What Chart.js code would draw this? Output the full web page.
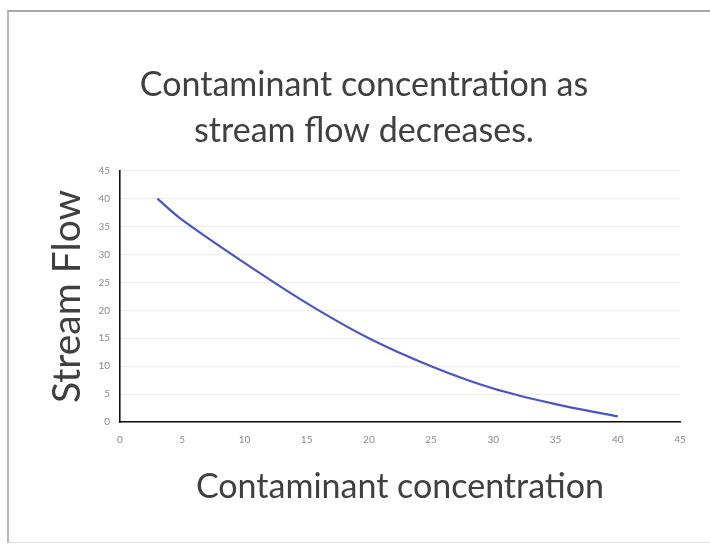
<!DOCTYPE html>
<html><head><meta charset="utf-8">
<script src="https://cdn.jsdelivr.net/npm/chart.js@4"></script>
<style>
html,body{margin:0;padding:0;background:#fff;overflow:hidden;}
#frame{position:absolute;left:7px;top:10px;width:720px;height:533px;border-left:2px solid #b8b8b8;border-top:2px solid #a8a8a8;border-bottom:1px solid #e0e0e0;box-sizing:border-box;}
#wrap{position:absolute;left:0;top:0;width:710px;height:546px;}
</style></head><body>
<div id="frame"></div>
<div id="wrap"><canvas id="c" width="710" height="546"></canvas></div>
<script>
const titleLines = ["Contaminant concentration as", "stream flow decreases."];
const xTitle = "Contaminant concentration";
const yTitle = "Stream Flow";
const concentration = [3, 5, 10, 15, 20, 25, 30, 35, 40];
const streamFlow = [40, 36.2, 28.5, 21.3, 15, 10, 6, 3.2, 1];
const axisMin = 0, axisMax = 45, axisStep = 5;

const points = concentration.map((x, i) => ({x: x, y: streamFlow[i]}));
const FONT = "Lato, 'Open Sans', sans-serif";

new Chart(document.getElementById('c'), {
  type: 'scatter',
  data: { datasets: [{
    data: points, showLine: true, borderColor: '#4b55c2', borderWidth: 2.2,
    pointRadius: 0, pointHoverRadius: 0, tension: 0.35, fill: false
  }]},
  options: {
    responsive: false, animation: false,
    layout: { padding: { left: 48, right: 30, top: 0, bottom: 0 } },
    plugins: {
      legend: { display: false }, tooltip: { enabled: false },
      title: { display: true, text: titleLines, color: '#404040',
        font: { family: FONT, size: 34, weight: 'normal', lineHeight: 1.35 },
        padding: { top: 62, bottom: 17 } }
    },
    scales: {
      x: { type: 'linear', min: axisMin, max: axisMax,
        ticks: { stepSize: axisStep, color: '#8a8a8a', font: { family: FONT, size: 10 }, padding: 12 },
        grid: { display: false, drawTicks: false },
        border: { color: '#111', width: 1.6 },
        title: { display: true, text: xTitle, color: '#404040',
          font: { family: FONT, size: 34, lineHeight: 1.2 }, padding: { top: 0, bottom: 39 } },
        afterFit: s => { s.height = 124; }
      },
      y: { type: 'linear', min: axisMin, max: axisMax,
        ticks: { stepSize: axisStep, color: '#8a8a8a', font: { family: FONT, size: 10 }, padding: 10 },
        grid: { color: '#ececec', drawTicks: false, lineWidth: 1 },
        border: { color: '#111', width: 1.6 },
        title: { display: true, text: yTitle, color: '#404040',
          font: { family: FONT, size: 39, lineHeight: 1.0 }, padding: { top: 0, bottom: 0 } },
        afterFit: s => { s.width = 72; }
      }
    }
  }
});
</script>
</body></html>
